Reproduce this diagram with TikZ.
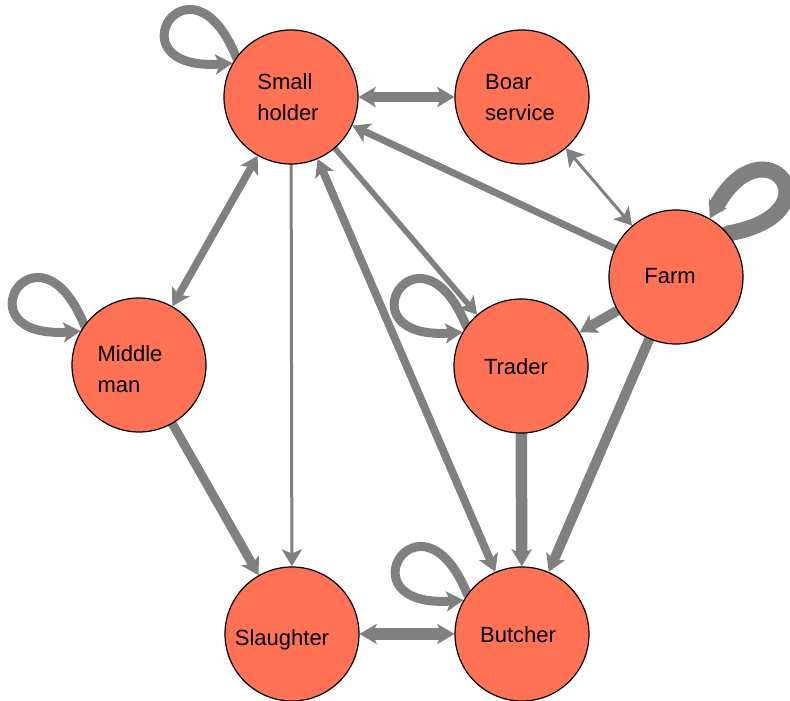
\documentclass[tikz,border=0pt]{standalone}
\usepackage{fontspec}
\setmainfont{Liberation Sans}
\usetikzlibrary{arrows.meta,backgrounds,calc}
\definecolor{vfill}{RGB}{255,114,86}
\definecolor{egray}{RGB}{128,128,128}
\begin{document}
\begin{tikzpicture}[x=1pt,y=1pt,
  vert/.style={circle,draw=black,line width=1.2pt,fill=vfill,minimum size=134pt,inner sep=0pt},
  lab/.style={font=\fontsize{22}{31}\selectfont,align=left,text depth=0pt,inner sep=0pt},
  edge/.style={draw=egray,line cap=butt,line join=round},
  >={Stealth[length=17pt,width=20pt,inset=4pt]}]
\useasboundingbox (0,0) rectangle (790,701);

% vertices
\node[vert] (SH) at (291,604) {};
\node[vert] (BS) at (522,604) {};
\node[vert] (FA) at (676,424) {};
\node[vert] (TR) at (521,335) {};
\node[vert] (MM) at (139,336) {};
\node[vert] (SL) at (292,67) {};
\node[vert] (BU) at (522,67) {};

% vertex labels
\node[lab] (SHt) at ([xshift=-3pt]SH.center) {Small\\holder};
\node[lab] (BSt) at ([xshift=-2pt]BS.center) {Boar\\service};
\node[lab] (FAt) at ([xshift=-6pt,yshift=1pt]FA.center) {Farm};
\node[lab] (TRt) at ([xshift=-5pt,yshift=-1pt]TR.center) {Trader};
\node[lab] (MMt) at ([xshift=-9pt,yshift=-4pt]MM.center) {Middle\\man};
\node[lab] (SLt) at ([xshift=-10pt,yshift=-4pt]SL.center) {Slaughter};
\node[lab] (BUt) at ([xshift=-4pt,yshift=-1pt]BU.center) {Butcher};

\begin{pgfonlayer}{background}
% straight edges
\draw[edge,line width=10pt,<->] (SH) -- (BS);
\draw[edge,line width=3pt,<->] (BS) -- (FA);
\draw[edge,line width=7pt,->] (FA.center) -- (SH);
\draw[edge,line width=10pt,->] (FA.center) -- (TR);
\draw[edge,line width=10pt,->] (FA.center) -- (BU);
\draw[edge,line width=5.5pt,->] (SH.center) -- (TR);
\draw[edge,line width=7.5pt,<->] (SH) -- (MM);
\draw[edge,line width=3pt,->] (SH.center) -- (SL);
\draw[edge,line width=8pt,<->] (SH) -- (BU);
\draw[edge,line width=11.5pt,->] (TR.center) -- (BU);
\draw[edge,line width=9pt,->] (MM.center) -- (SL);
\draw[edge,line width=12pt,<->] (SL) -- (BU);

% self-loops
\foreach \v in {SH,MM,TR,BU}{
  \draw[edge,line width=9pt,->] ([shift={(144:45)}]\v.center) -- (\v.144)
    .. controls +(112:124) and +(184:124) .. (\v.150);
}
\draw[edge,line width=16pt,->] ([shift={(40:45)}]FA.center) -- (FA.40)
    .. controls +(10:115) and +(62:115) .. (FA.60);
\end{pgfonlayer}
\end{tikzpicture}
\end{document}
